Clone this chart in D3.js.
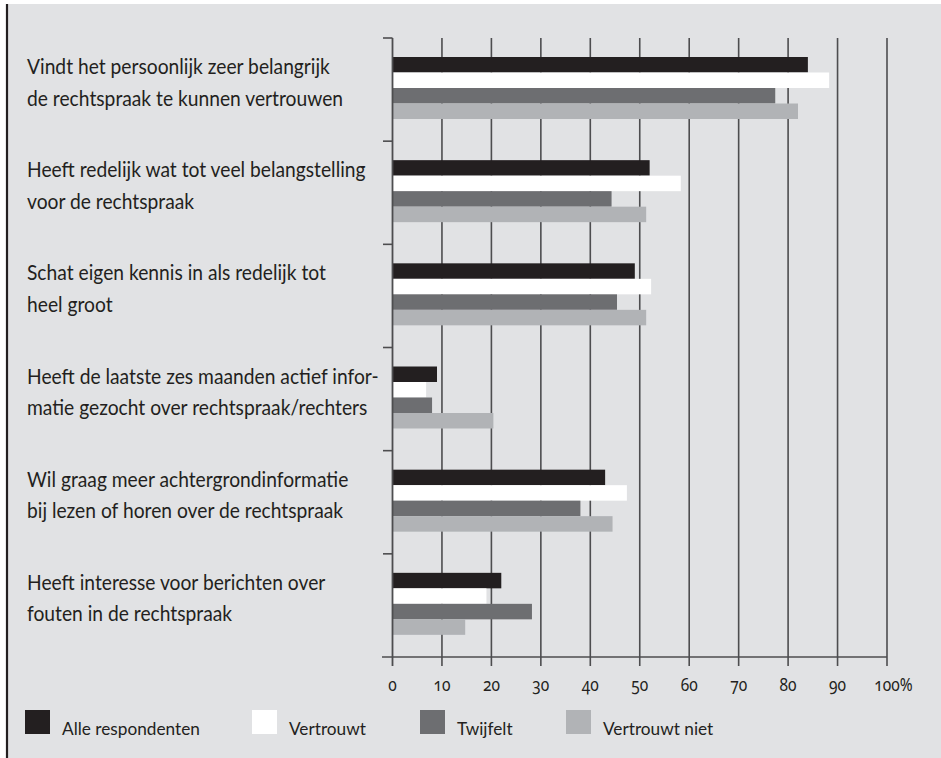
<!DOCTYPE html>
<html>
<head>
<meta charset="utf-8">
<script src="https://cdn.jsdelivr.net/npm/d3@7/dist/d3.min.js"></script>
<style>
  html, body { margin: 0; padding: 0; background: #ffffff; }
  svg { display: block; }
  text { font-family: Lato, "Open Sans", sans-serif; fill: #231f20; }
  text.tick { font-family: "Noto Sans", Lato, sans-serif; font-variant-numeric: oldstyle-nums; font-feature-settings: "onum" 1; }
</style>
</head>
<body>
<svg id="chart" width="941" height="758"></svg>
<script>
// ---- data ----
const categories = [
  ["Vindt het persoonlijk zeer belangrijk", "de rechtspraak te kunnen vertrouwen"],
  ["Heeft redelijk wat tot veel belangstelling", "voor de rechtspraak"],
  ["Schat eigen kennis in als redelijk tot", "heel groot"],
  ["Heeft de laatste zes maanden actief infor-", "matie gezocht over rechtspraak/rechters"],
  ["Wil graag meer achtergrondinformatie", "bij lezen of horen over de rechtspraak"],
  ["Heeft interesse voor berichten over", "fouten in de rechtspraak"]
];
const seriesNames = ["Alle respondenten", "Vertrouwt", "Twijfelt", "Vertrouwt niet"];
const alleRespondenten = [84, 52, 49, 9, 43, 22];
const vertrouwt        = [88.3, 58.3, 52.3, 6.8, 47.4, 19];
const twijfelt         = [77.4, 44.3, 45.4, 8, 38, 28.2];
const vertrouwtNiet    = [82, 51.3, 51.3, 20.4, 44.5, 14.7];
const tickValues = [0, 10, 20, 30, 40, 50, 60, 70, 80, 90, 100];
const tickLabels = ["0", "10", "20", "30", "40", "50", "60", "70", "80", "90", "100%"];
const seriesColors = ["#231f20", "#ffffff", "#6d6e71", "#b1b3b6"];

const seriesValues = [alleRespondenten, vertrouwt, twijfelt, vertrouwtNiet];
const catKeys = categories.map((c, i) => "c" + i);

// ---- layout ----
const svg = d3.select("#chart");
const W = 941, H = 758;

svg.append("rect").attr("x", 0).attr("y", 0).attr("width", W).attr("height", H).attr("fill", "#ffffff");
svg.append("rect").attr("x", 7).attr("y", 4).attr("width", W - 7).attr("height", H - 4).attr("fill", "#e1e2e4");
svg.append("line").attr("x1", 7).attr("x2", 7).attr("y1", 4).attr("y2", H)
  .attr("stroke", "#231f20").attr("stroke-width", 2.2);

const x = d3.scaleLinear().domain([0, 100]).range([392.5, 887]);
const y0 = d3.scaleBand().domain(catKeys).range([38, 657]);
const y1 = d3.scaleBand().domain(seriesNames).range([19, 81]);

const gridColor = "#4d4d4f";

svg.append("g").selectAll("line").data(tickValues.slice(1)).join("line")
  .attr("x1", d => x(d)).attr("x2", d => x(d))
  .attr("y1", 38).attr("y2", 666)
  .attr("stroke", gridColor).attr("stroke-width", 1.6);

const groups = svg.append("g").selectAll("g").data(catKeys).join("g")
  .attr("transform", d => `translate(0,${y0(d)})`);
groups.selectAll("rect")
  .data((d, i) => seriesNames.map((s, j) => ({ s, v: seriesValues[j][i], j })))
  .join("rect")
  .attr("x", x(0))
  .attr("y", d => y1(d.s))
  .attr("width", d => x(d.v) - x(0))
  .attr("height", y1.bandwidth())
  .attr("fill", d => seriesColors[d.j]);

svg.append("line").attr("x1", x(0)).attr("x2", x(0)).attr("y1", 38).attr("y2", 666)
  .attr("stroke", gridColor).attr("stroke-width", 1.8);
svg.append("g").selectAll("line").data(catKeys).join("line")
  .attr("x1", 383).attr("x2", x(0))
  .attr("y1", d => y0(d)).attr("y2", d => y0(d))
  .attr("stroke", gridColor).attr("stroke-width", 1.6);
svg.append("line").attr("x1", 382).attr("x2", x(100)).attr("y1", 657).attr("y2", 657)
  .attr("stroke", gridColor).attr("stroke-width", 1.6);

// ---- text (condensed via horizontal scaling) ----
function measure(str, size, cls) {
  const t = svg.append("text").attr("font-size", size).attr("class", cls || null).text(str);
  const w = t.node().getComputedTextLength();
  t.remove();
  return w;
}
const labelSx = 303 / measure(categories[0][0], 22);
const legendSx = 138 / measure(seriesNames[0], 18);
const tickSx = 17 / measure("10", 19, "tick");

function addText(str, tx, ty, size, sx, anchor, cls) {
  return svg.append("text")
    .attr("class", cls || null)
    .attr("transform", `translate(${tx},${ty}) scale(${sx},1)`)
    .attr("font-size", size)
    .attr("text-anchor", anchor || "start")
    .text(str);
}

categories.forEach((lines, i) => {
  const c = y0(catKeys[i]) + y0.bandwidth() / 2;
  addText(lines[0], 27, c - 15.5, 22, labelSx);
  addText(lines[1], 27, c + 16, 22, labelSx);
});

tickValues.forEach((v, i) => {
  const last = i === tickLabels.length - 1;
  const t = addText(tickLabels[i], x(v), 691, 19, tickSx, last ? "start" : "middle", "tick");
  if (last) {
    const wNum = measure("100", 19, "tick") * tickSx;
    t.attr("transform", `translate(${x(v) - wNum / 2},691) scale(${tickSx},1)`);
  }
});

const legendX = [25, 252, 420, 566];
seriesNames.forEach((s, i) => {
  svg.append("rect").attr("x", legendX[i]).attr("y", 710).attr("width", 25).attr("height", 24)
    .attr("fill", seriesColors[i]);
  addText(s, legendX[i] + 37, 735, 18, legendSx);
});
</script>
</body>
</html>
